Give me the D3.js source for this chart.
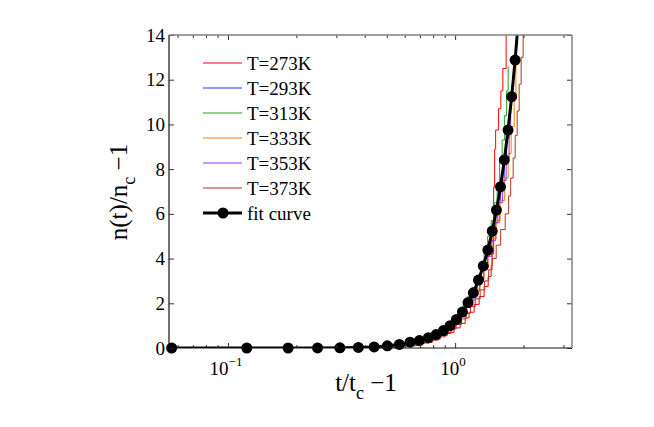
<!DOCTYPE html>
<html>
<head>
<meta charset="utf-8">
<title>n(t)/n_c - 1 against t/t_c - 1</title>
<script src="https://cdn.jsdelivr.net/npm/d3@7"></script>
<style>
  body { margin: 0; background: #fff; }
  svg { display: block; font-family: "Liberation Serif", "Times New Roman", serif; }
</style>
</head>
<body>
<svg id="chart" width="654" height="427"></svg>
<script>

// values (x is t/tc - 1, y is n(t)/nc - 1)
var legendLabels = ["T=273K", "T=293K", "T=313K", "T=333K", "T=353K", "T=373K", "fit curve"]
var lineColors = ["#ff0000", "#1f3cff", "#22a022", "#ff7f00", "#9933ff", "#b8321e"]

var t273x = [0.055, 0.567, 0.687, 0.792, 0.859, 0.922, 0.990, 1.052, 1.107, 1.152, 1.213, 1.276, 1.342, 1.398, 1.441, 1.455, 1.478, 1.493, 1.508, 1.551, 1.590, 1.622, 1.677]
var t273y = [0, 0.12, 0.25, 0.4, 0.55, 0.7, 0.9, 1.1, 1.35, 1.6, 1.95, 2.3, 2.75, 3.2, 3.7, 4.2, 7.2, 8.9, 9.75, 10.7, 11.5, 12.5, 15]

var t293x = [0.055, 0.517, 0.627, 0.719, 0.788, 0.837, 0.894, 0.941, 0.995, 1.041, 1.090, 1.147, 1.200, 1.250, 1.302, 1.356, 1.412, 1.470, 1.532, 1.587, 1.644, 1.686, 1.729, 1.756]
var t293y = [0, 0.1, 0.22, 0.35, 0.5, 0.65, 0.85, 1.05, 1.3, 1.55, 1.85, 2.2, 2.6, 3.0, 3.5, 4.1, 4.8, 5.6, 6.5, 7.4, 8.4, 9.4, 10.5, 11.3]

var t313x = [0.055, 0.512, 0.602, 0.694, 0.760, 0.812, 0.859, 0.908, 0.955, 1.000, 1.041, 1.085, 1.135, 1.188, 1.244, 1.296, 1.342, 1.390, 1.441, 1.486, 1.532, 1.570, 1.611, 1.652, 1.686, 1.712]
var t313y = [0, 0.1, 0.2, 0.32, 0.45, 0.6, 0.75, 0.95, 1.15, 1.4, 1.65, 1.95, 2.3, 2.7, 3.2, 3.7, 4.3, 5.0, 5.7, 6.5, 7.4, 8.3, 9.3, 10.4, 11.5, 12.6]

var t333x = [0.055, 0.539, 0.653, 0.745, 0.808, 0.868, 0.922, 0.970, 1.020, 1.068, 1.118, 1.176, 1.231, 1.289, 1.342, 1.398, 1.455, 1.516, 1.578, 1.652, 1.712, 1.765, 1.819, 1.851]
var t333y = [0, 0.12, 0.25, 0.38, 0.52, 0.68, 0.88, 1.08, 1.32, 1.58, 1.9, 2.25, 2.65, 3.1, 3.6, 4.2, 4.9, 5.7, 6.6, 7.6, 8.7, 9.9, 11.2, 13.0]

var t353x = [0.055, 0.528, 0.634, 0.727, 0.796, 0.850, 0.913, 0.960, 1.015, 1.063, 1.112, 1.170, 1.225, 1.282, 1.335, 1.390, 1.448, 1.508, 1.563, 1.619, 1.677, 1.729, 1.756]
var t353y = [0, 0.1, 0.2, 0.33, 0.47, 0.62, 0.8, 1.0, 1.25, 1.5, 1.8, 2.15, 2.55, 3.0, 3.5, 4.1, 4.8, 5.6, 6.5, 7.5, 8.5, 9.6, 10.4]

var t373x = [0.055, 0.550, 0.667, 0.768, 0.842, 0.904, 0.960, 1.010, 1.068, 1.118, 1.170, 1.225, 1.289, 1.349, 1.405, 1.455, 1.516, 1.587, 1.661, 1.720, 1.756, 1.801, 1.838, 1.876, 1.914, 1.953, 1.993]
var t373y = [0, 0.1, 0.22, 0.35, 0.5, 0.65, 0.85, 1.05, 1.3, 1.55, 1.85, 2.2, 2.6, 3.0, 3.5, 4.0, 4.6, 5.3, 6.0, 6.8, 7.6, 8.5, 9.5, 10.6, 11.8, 13.0, 15]

var fitX = [0.0565, 0.121, 0.184, 0.248, 0.311, 0.375, 0.44, 0.503, 0.568, 0.633, 0.696, 0.763, 0.825, 0.888, 0.95, 1.013, 1.077, 1.14, 1.203, 1.267, 1.33, 1.394, 1.457, 1.52, 1.584, 1.647, 1.71, 1.774, 1.837, 1.90]
var fitY = [0, 0, 0, 0.004, 0.01, 0.025, 0.05, 0.1, 0.16, 0.26, 0.33, 0.46, 0.6, 0.78, 1.0, 1.28, 1.61, 2.03, 2.47, 3.04, 3.67, 4.38, 5.23, 6.17, 7.21, 8.41, 9.75, 11.24, 12.88, 14.7]

var xMajor = [0.1, 1]
var xMajorExp = ["\u22121", "0"]
var xMinor = [0.06, 0.07, 0.08, 0.09, 0.2, 0.3, 0.4, 0.5, 0.6, 0.7, 0.8, 0.9, 2, 3]
var yTicks = [0, 2, 4, 6, 8, 10, 12, 14]

var stairX = [t273x, t293x, t313x, t333x, t353x, t373x]
var stairY = [t273y, t293y, t313y, t333y, t353y, t373y]

// plot box (window.top is taken, so own names)
var boxL = 169, boxR = 572, boxT = 35, boxB = 348

var svg = d3.select("#chart")

var x = d3.scaleLog().domain([0.055, 3.27]).range([boxL, boxR])
var y = d3.scaleLinear().domain([0, 14]).range([boxB, boxT])

svg.append("defs").append("clipPath").attr("id", "plotclip")
  .append("rect")
    .attr("x", boxL).attr("y", boxT)
    .attr("width", boxR - boxL).attr("height", boxB - boxT)

var plot = svg.append("g").attr("clip-path", "url(#plotclip)")

// the six staircase runs
var stair = d3.line()
  .x(function(d){ return x(d[0]) })
  .y(function(d){ return y(d[1]) })
  .curve(d3.curveStepAfter)

stairX.forEach(function(xs, i){
  var pts = xs.map(function(v, j){ return [v, stairY[i][j]] })
  plot.append("path")
    .datum(pts)
    .attr("d", stair)
    .attr("fill", "none")
    .attr("stroke", lineColors[i])
    .attr("stroke-width", 1)
})

// fit curve with markers
var fitPts = fitX.map(function(v, j){ return [v, fitY[j]] })
var straight = d3.line()
  .x(function(d){ return x(d[0]) })
  .y(function(d){ return y(d[1]) })

plot.append("path")
  .datum(fitPts)
  .attr("d", straight)
  .attr("fill", "none")
  .attr("stroke", "#000")
  .attr("stroke-width", 3)

svg.selectAll("circle.fit")
  .data(fitPts.filter(function(d){ return d[1] <= 14 }))
  .enter().append("circle")
    .attr("class", "fit")
    .attr("cx", function(d){ return x(d[0]) })
    .attr("cy", function(d){ return y(d[1]) })
    .attr("r", 5.5)
    .attr("fill", "#000")

// axes, ticks pointing inwards like matlab
function plain(g){
  g.select(".domain").remove()
  g.selectAll(".tick line").attr("stroke", "#333")
}

svg.append("g")
  .attr("transform", "translate(0," + boxB + ")")
  .call(d3.axisBottom(x).tickValues(xMajor).tickSize(-5).tickFormat(""))
  .call(plain)
svg.append("g")
  .attr("transform", "translate(0," + boxB + ")")
  .call(d3.axisBottom(x).tickValues(xMinor).tickSize(-3).tickFormat(""))
  .call(plain)
svg.append("g")
  .attr("transform", "translate(0," + boxT + ")")
  .call(d3.axisTop(x).tickValues(xMajor).tickSize(-5).tickFormat(""))
  .call(plain)
svg.append("g")
  .attr("transform", "translate(0," + boxT + ")")
  .call(d3.axisTop(x).tickValues(xMinor).tickSize(-3).tickFormat(""))
  .call(plain)

var yl = svg.append("g")
  .attr("transform", "translate(" + boxL + ",0)")
  .call(d3.axisLeft(y).tickValues(yTicks).tickSize(-5).tickPadding(4))
  .call(plain)
yl.selectAll(".tick text")
  .attr("font-family", "Liberation Serif, Times New Roman, serif")
  .attr("font-size", 19)
  .attr("fill", "#000")

svg.append("g")
  .attr("transform", "translate(" + boxR + ",0)")
  .call(d3.axisRight(y).tickValues(yTicks).tickSize(-5).tickFormat(""))
  .call(plain)

// box
svg.append("line").attr("x1", boxL).attr("x2", boxL).attr("y1", boxT).attr("y2", boxB)
  .attr("stroke", "#111").attr("stroke-width", 1.2)
svg.append("line").attr("x1", boxL).attr("x2", boxR).attr("y1", boxB).attr("y2", boxB)
  .attr("stroke", "#111").attr("stroke-width", 1.2)
svg.append("line").attr("x1", boxL).attr("x2", boxR).attr("y1", boxT).attr("y2", boxT)
  .attr("stroke", "#808080").attr("stroke-width", 1.5)
svg.append("line").attr("x1", boxR).attr("x2", boxR).attr("y1", boxT).attr("y2", boxB)
  .attr("stroke", "#808080").attr("stroke-width", 1.5)

// 10^n tick labels
xMajor.forEach(function(v, i){
  var t = svg.append("text")
    .attr("x", x(v) - 2).attr("y", boxB + 27)
    .attr("text-anchor", "middle")
    .attr("font-size", 19)
  t.append("tspan").text("10")
  t.append("tspan").attr("dy", -9).attr("font-size", 13).text(xMajorExp[i])
})

// axis titles
var xt = svg.append("text")
  .attr("x", 366).attr("y", 391)
  .attr("text-anchor", "middle")
  .attr("font-size", 25)
xt.append("tspan").text("t/t")
xt.append("tspan").attr("dy", 8).attr("font-size", 18).text("c")
xt.append("tspan").attr("dy", -8).text(" \u22121")

var yt = svg.append("text")
  .attr("transform", "translate(127,192) rotate(-90)")
  .attr("text-anchor", "middle")
  .attr("font-size", 25)
yt.append("tspan").text("n(t)/n")
yt.append("tspan").attr("dy", 8).attr("font-size", 18).text("c")
yt.append("tspan").attr("dy", -8).text(" \u22121")

// legend, no frame
var legend = svg.append("g")
legendLabels.forEach(function(lab, i){
  var ly = 63 + i * 25
  var isFit = i === legendLabels.length - 1
  legend.append("line")
    .attr("x1", 203).attr("x2", 242).attr("y1", ly).attr("y2", ly)
    .attr("stroke", isFit ? "#000" : lineColors[i])
    .attr("stroke-width", isFit ? 3 : 1)
  if (isFit) {
    legend.append("circle").attr("cx", 223).attr("cy", ly).attr("r", 5.5).attr("fill", "#000")
  }
  legend.append("text")
    .attr("x", 247).attr("y", ly + 6.5)
    .attr("font-size", 19)
    .text(lab)
})

</script>
</body>
</html>
